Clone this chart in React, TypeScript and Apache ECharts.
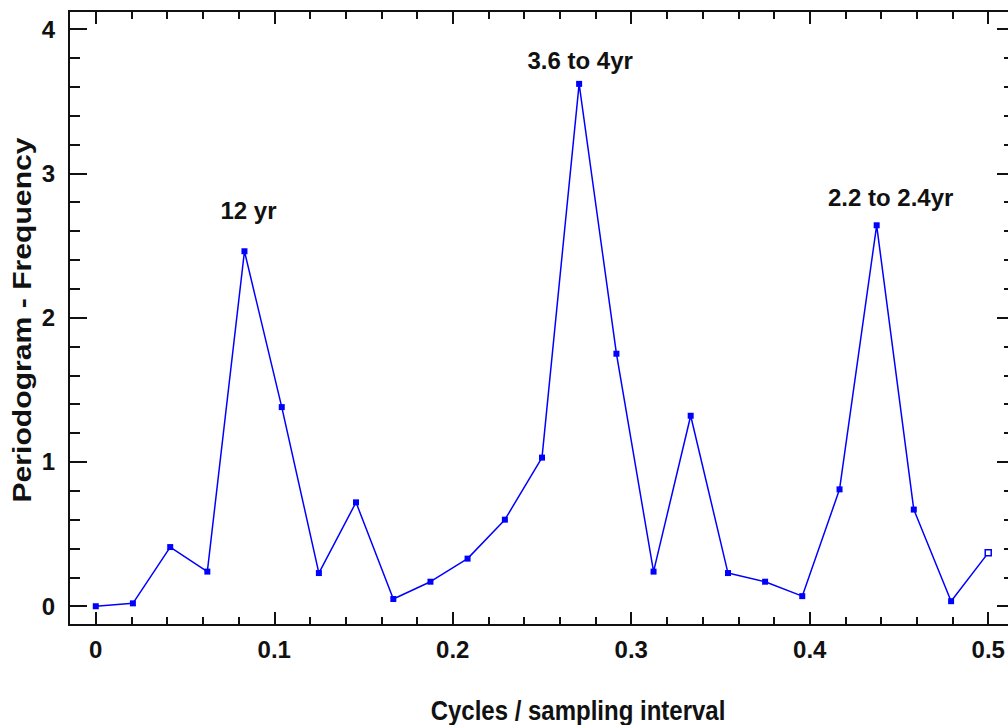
import React, { useEffect, useRef } from "react";
import * as echarts from "echarts";

const freqs = [
  0, 0.0208, 0.0417, 0.0625, 0.0833, 0.1042, 0.125, 0.1458, 0.1667, 0.1875,
  0.2083, 0.2292, 0.25, 0.2708, 0.2917, 0.3125, 0.3333, 0.3542, 0.375, 0.3958,
  0.4167, 0.4375, 0.4583, 0.4792, 0.5,
];
const periodogram = [
  0.0, 0.02, 0.41, 0.24, 2.46, 1.38, 0.23, 0.72, 0.05, 0.17,
  0.33, 0.6, 1.03, 3.62, 1.75, 0.24, 1.32, 0.23, 0.17, 0.07,
  0.81, 2.64, 0.67, 0.035, 0.37,
];
const xMajorTicks = [0, 0.1, 0.2, 0.3, 0.4, 0.5];
const xMinorTicks = [
  0.02, 0.04, 0.06, 0.08, 0.12, 0.14, 0.16, 0.18, 0.22, 0.24, 0.26, 0.28,
  0.32, 0.34, 0.36, 0.38, 0.42, 0.44, 0.46, 0.48,
];
const yMajorTicks = [0, 1, 2, 3, 4];
const yMinorTicks = [
  0.2, 0.4, 0.6, 0.8, 1.2, 1.4, 1.6, 1.8, 2.2, 2.4, 2.6, 2.8, 3.2, 3.4, 3.6, 3.8,
];
const peakLabels = [
  { name: "12 yr", x: 0.0833, y: 2.46, offset: [4, -41] },
  { name: "3.6 to 4yr", x: 0.2708, y: 3.62, offset: [1, -23] },
  { name: "2.2 to 2.4yr", x: 0.4375, y: 2.64, offset: [14, -28] },
];
const xTitle = "Cycles / sampling interval";
const yTitle = "Periodogram - Frequency";

const FONT = "'Liberation Sans', Arial, sans-serif";
const X_MIN = -0.015;
const X_MAX = 0.515;
const Y_MIN = -0.13;
const Y_MAX = 4.125;

function xAxisDef(position: string, ticks: number[], len: number, labels: boolean) {
  return {
    type: "value",
    position,
    min: X_MIN,
    max: X_MAX,
    axisLine: { show: true, onZero: false, lineStyle: { color: "#111", width: 2 } },
    axisTick: {
      show: true,
      inside: true,
      length: len,
      customValues: ticks,
      lineStyle: { color: "#111", width: 2 },
    },
    axisLabel: labels
      ? {
          show: true,
          customValues: ticks,
          margin: 12,
          fontSize: 24,
          fontWeight: "bold",
          fontFamily: FONT,
          color: "#111",
          formatter: (v: number) => String(Math.round(v * 10) / 10),
        }
      : { show: false },
    splitLine: { show: false },
  };
}

function yAxisDef(position: string, ticks: number[], len: number, labels: boolean) {
  return {
    type: "value",
    position,
    min: Y_MIN,
    max: Y_MAX,
    axisLine: { show: true, onZero: false, lineStyle: { color: "#111", width: 2 } },
    axisTick: {
      show: true,
      inside: true,
      length: len,
      customValues: ticks,
      lineStyle: { color: "#111", width: 2 },
    },
    axisLabel: labels
      ? {
          show: true,
          customValues: ticks,
          margin: 14,
          fontSize: 24,
          fontWeight: "bold",
          fontFamily: FONT,
          color: "#111",
          formatter: (v: number) => String(Math.round(v)),
        }
      : { show: false },
    splitLine: { show: false },
  };
}

export default function App() {
  const ref = useRef<HTMLDivElement>(null);
  useEffect(() => {
    if (!ref.current) return;
    const chart = echarts.init(ref.current, null, { renderer: "svg" });
    const data = freqs.map((f, i) => {
      const item: any = { value: [f, periodogram[i]] };
      if (i === freqs.length - 1) {
        item.itemStyle = { color: "#ffffff", borderColor: "#0000ff", borderWidth: 1.5 };
      }
      return item;
    });
    chart.setOption({
      animation: false,
      backgroundColor: "#ffffff",
      grid: { left: 69, top: 11, right: 9, bottom: 100, containLabel: false },
      xAxis: [
        xAxisDef("bottom", xMajorTicks, 13, true),
        xAxisDef("bottom", xMinorTicks, 8, false),
        xAxisDef("top", xMajorTicks, 13, false),
        xAxisDef("top", xMinorTicks, 8, false),
      ],
      yAxis: [
        yAxisDef("left", yMajorTicks, 18, true),
        yAxisDef("left", yMinorTicks, 11, false),
        yAxisDef("right", yMajorTicks, 18, false),
        yAxisDef("right", yMinorTicks, 11, false),
      ],
      series: [
        {
          type: "line",
          xAxisIndex: 0,
          yAxisIndex: 0,
          data,
          symbol: "rect",
          symbolSize: 6,
          showAllSymbol: true,
          lineStyle: { color: "#0000ff", width: 1.5 },
          itemStyle: { color: "#0000ff" },
          markPoint: {
            symbol: "rect",
            symbolSize: 1,
            itemStyle: { color: "rgba(0,0,0,0)" },
            label: {
              show: true,
              position: "inside",
              fontSize: 24,
              fontWeight: "bold",
              fontFamily: FONT,
              color: "#111",
            },
            data: peakLabels.map((p) => ({
              name: p.name,
              coord: [p.x, p.y],
              label: { formatter: p.name, offset: p.offset },
            })),
          },
        },
      ],
      graphic: [
        {
          type: "text",
          x: 578,
          y: 710,
          scaleY: 1.16,
          style: {
            text: xTitle,
            fontSize: 24,
            fontWeight: "bold",
            fontFamily: FONT,
            fill: "#111",
            align: "center",
            verticalAlign: "middle",
          },
        },
        {
          type: "text",
          x: 22,
          y: 320,
          rotation: Math.PI / 2,
          scaleX: 1.16,
          style: {
            text: yTitle,
            fontSize: 26,
            fontWeight: "bold",
            fontFamily: FONT,
            fill: "#111",
            align: "center",
            verticalAlign: "middle",
          },
        },
      ],
    });
    return () => chart.dispose();
  }, []);
  return (
    <div
      style={{
        position: "fixed",
        left: 0,
        top: 0,
        width: 1008,
        height: 725,
        overflow: "hidden",
        background: "#fff",
      }}
    >
      <div ref={ref} style={{ width: 1024, height: 725 }} />
    </div>
  );
}
